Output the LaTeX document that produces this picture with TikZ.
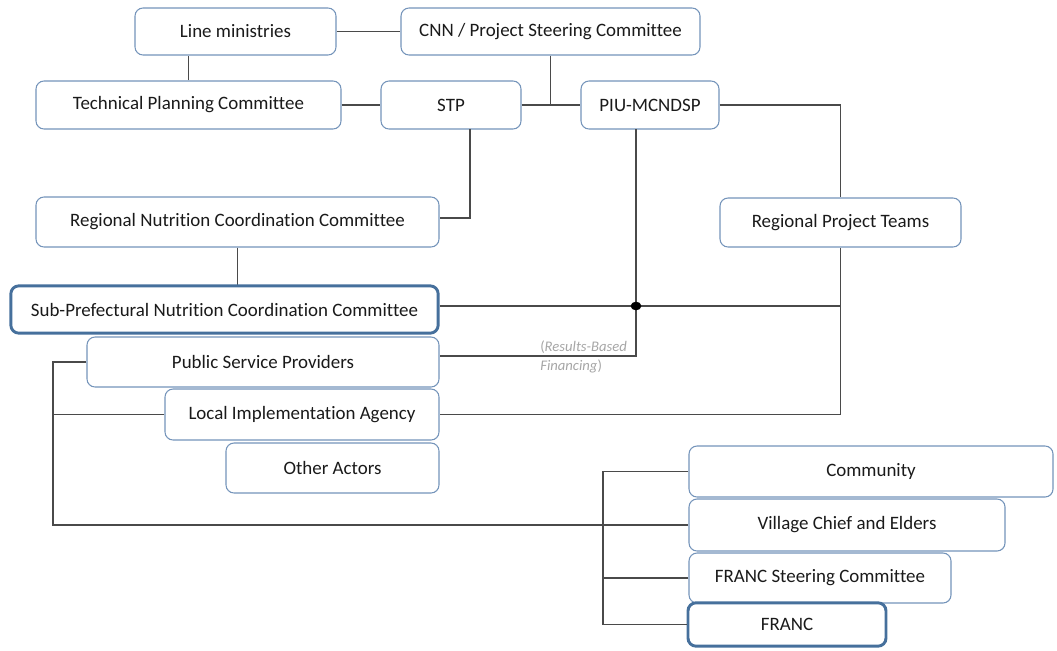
\documentclass[tikz,border=0pt]{standalone}
\usepackage{fontspec}
\setmainfont[Ligatures={NoCommon}]{Carlito}
\usetikzlibrary{shapes.geometric}
\definecolor{boxline}{HTML}{7494BA}
\definecolor{boxthick}{HTML}{46709C}
\definecolor{conn}{HTML}{4A4A4A}
\definecolor{labelgray}{HTML}{A6A6A6}
\definecolor{txt}{HTML}{1A1A1A}
\begin{document}
\begin{tikzpicture}[x=0.75pt,y=-0.75pt,
  box/.style={draw=boxline, line width=0.8pt, rounded corners=6pt, fill=white,
    text=txt, font=\fontsize{14.2}{17}\selectfont, inner sep=0pt, anchor=center},
  thickbox/.style={box, draw=boxthick, line width=2.2pt},
  link/.style={draw=conn, line width=0.8pt},
  dotnode/.style={ellipse, fill=black, draw=black, inner sep=0pt, minimum width=7.5pt, minimum height=6pt}
]
\useasboundingbox (0,0) rectangle (1057,650);

\node[box, minimum width=150.75pt, minimum height=35.25pt] (lm) at (235.5,31.5) {Line ministries};
\node[box, minimum width=224.25pt, minimum height=35.25pt] (cnn) at (550.5,31.5) {CNN / Project Steering Committee};
\node[box, minimum width=228.75pt, minimum height=36pt] (tpc) at (188.5,105) {Technical Planning Committee};
\node[box, minimum width=105pt, minimum height=36pt] (stp) at (451,105) {STP};
\node[box, minimum width=103.5pt, minimum height=36pt] (piu) at (650,105) {PIU-MCNDSP};
\node[box, minimum width=302.25pt, minimum height=37.5pt] (rncc) at (237.5,222) {Regional Nutrition Coordination Committee};
\node[box, minimum width=180.75pt, minimum height=36.75pt] (rpt) at (840.5,222.5) {Regional Project Teams};

\coordinate (piuline) at (636,129);
\coordinate (stpline) at (470,129);
\coordinate (rnccjoin) at (470,218);
\coordinate (lbb) at (53,525);
\coordinate (rbb) at (603,624.5);
\coordinate (spr) at (840,306);

\path[link] (lm) -- (cnn);
\path[link] (tpc.north) -- (tpc.north |- lm.south);
\path[link] (cnn.south) -- (cnn.south |- stp.east);
\path[link] (tpc) -- (stp);
\path[link] (stp) -- (piu);
\path[link] (piu.east) -| (rpt.north);
\path[link] (stpline) -- (rnccjoin) -- (rnccjoin -| rncc.east);
\path[link] (rncc.south) -- (237.5,285);

\node[thickbox, minimum width=320.5pt, minimum height=35.5pt] (spncc) at (224.5,309.5) {Sub-Prefectural Nutrition Coordination Committee};
\node[box, minimum width=264pt, minimum height=37.5pt] (psp) at (263,362) {Public Service Providers};
\node[box, minimum width=205.5pt, minimum height=38.25pt] (lia) at (302,414.5) {Local Implementation Agency};
\node[box, minimum width=159.75pt, minimum height=37.5pt] (oa) at (332.5,468) {Other Actors};

\node[box, minimum width=273pt, minimum height=38.25pt] (com) at (871,471.5) {Community};
\node[box, minimum width=237pt, minimum height=39pt] (vce) at (847,525) {Village Chief and Elders};
\node[box, minimum width=196.5pt, minimum height=37.5pt] (fsc) at (820,578) {FRANC Steering Committee};
\node[thickbox, minimum width=148.5pt, minimum height=32.5pt] (franc) at (787,624.5) {FRANC};

\path[link] (spncc.east |- spr) -- (spr);
\path[link] (rpt.south) |- (lia.east);
\path[link] (piuline) |- ([yshift=4.5pt]psp.east);
\node[dotnode] (dot) at (piuline |- spr) {};

\path[link] (psp.west) -| (lbb) -- (vce.west);
\path[link] (lia.west) -- (lia.west -| lbb);
\path[link] (com.west) -| (rbb) -- (franc.west);
\path[link] (fsc.west) -- (fsc.west -| rbb);

\node[anchor=north west, align=left, text=labelgray, inner sep=0pt,
  font=\fontsize{11}{14.25}\selectfont] (rbf) at (540,341)
  {(\textit{Results-Based}\\\textit{Financing})};
\end{tikzpicture}
\end{document}
